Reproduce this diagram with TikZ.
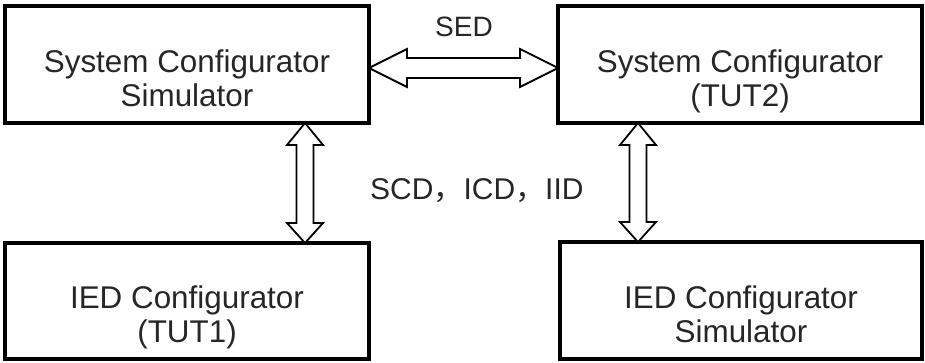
\documentclass[tikz,border=0pt]{standalone}
\usepackage{fontspec}
\setmainfont{Liberation Sans}
\newfontfamily\cjk{Noto Sans CJK SC}
\usetikzlibrary{calc}

\tikzset{
  block/.style={draw=black, line width=3.5pt, outer sep=0pt, inner sep=0pt},
  blocktext/.style={align=center, text=black!85, font=\fontsize{31.4}{34}\selectfont,
    text height=23pt, text depth=0pt, inner sep=0pt},
  flowlabel/.style={text=black!85, inner sep=0pt},
  hollow/.style={draw=black, fill=white, line width=1.8pt, line join=miter}
}

% hollow double arrow between the bottom of #1 and the top of #2, at x = #3
\newcommand\vdarrow[3]{%
  \draw[hollow] let \p1=(#1.south), \p2=(#2.north) in
    (#3pt,\y1) -- (#3pt+18pt,\y1-22pt) -- (#3pt+8.5pt,\y1-22pt)
    -- (#3pt+8.5pt,\y2+20pt) -- (#3pt+18pt,\y2+20pt) -- (#3pt,\y2)
    -- (#3pt-18pt,\y2+20pt) -- (#3pt-8.5pt,\y2+20pt)
    -- (#3pt-8.5pt,\y1-22pt) -- (#3pt-18pt,\y1-22pt) -- cycle;}

\begin{document}
\begin{tikzpicture}[x=1pt, y=-1pt]
\useasboundingbox (0,0) rectangle (925,363);

% boxes
\node[block, minimum width=364pt, minimum height=117pt] (s1) at (187,64.5) {};
\node[block, minimum width=364pt, minimum height=117pt] (s2) at (740,64.5) {};
\node[block, minimum width=364pt, minimum height=116pt] (i1) at (187,301) {};
\node[block, minimum width=362pt, minimum height=117pt] (i2) at (741,300.5) {};

% box captions
\node[blocktext] (s1t) at ($(s1.center)+(0,31)$) {System Configurator\\Simulator};
\node[blocktext] (s2t) at ($(s2.center)+(0,31)$) {System Configurator\\(TUT2)};
\node[blocktext] (i1t) at ($(i1.center)+(0,29.5)$) {IED Configurator\\(TUT1)};
\node[blocktext] (i2t) at ($(i2.center)+(0,30)$) {IED Configurator\\Simulator};

% exchanged files
\node[flowlabel, anchor=base, font=\fontsize{28}{30}\selectfont] (sed) at (464,37) {SED};
\node[flowlabel, anchor=base west, font=\fontsize{30}{32}\selectfont] (scd) at (370,200)
  {SCD{\cjk，}ICD{\cjk，}IID};

% horizontal double arrow between the two system configurators
\draw[hollow] let \p1=(s1.east), \p2=(s2.west), \p3=($(s1.east)+(0,3.5)$) in
  (\x1,\y3) -- (\x1+38pt,\y3+19pt) -- (\x1+38pt,\y3+10pt)
  -- (\x2-38pt,\y3+10pt) -- (\x2-38pt,\y3+19pt) -- (\x2,\y3)
  -- (\x2-38pt,\y3-19pt) -- (\x2-38pt,\y3-10pt)
  -- (\x1+38pt,\y3-10pt) -- (\x1+38pt,\y3-19pt) -- cycle;

% vertical double arrows
\vdarrow{s1}{i1}{305}
\vdarrow{s2}{i2}{638}
\end{tikzpicture}
\end{document}
